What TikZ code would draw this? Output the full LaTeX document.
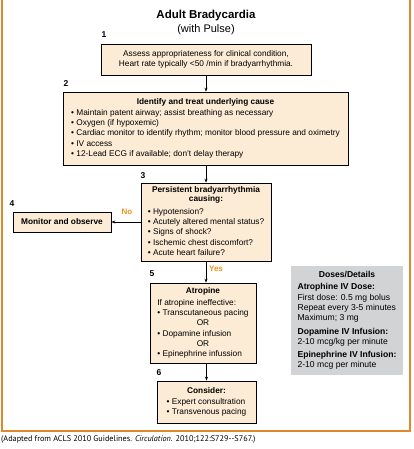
\documentclass[tikz,border=0pt]{standalone}
\usepackage{fontspec}
\setmainfont{Liberation Sans}
\newfontfamily\capfont{PT Sans}
\usetikzlibrary{arrows.meta}
\definecolor{peach}{HTML}{FCEBD5}
\definecolor{frameor}{HTML}{E0892B}
\definecolor{lab}{HTML}{F0901E}
\definecolor{dgray}{HTML}{D1D3D4}
\newcommand\bodyf{\fontsize{8.3}{10.3}\selectfont}
\newcommand\dosef{\fontsize{8.6}{10.2}\selectfont}
\newcommand\bul{\textbullet\ }
\newcommand\ctr[1]{\multicolumn{1}{@{}c@{}}{#1}}
\begin{document}
\begin{tikzpicture}[x=1pt,y=-1pt,
  box/.style={draw=black, line width=0.7pt, fill=peach, inner sep=0pt, font=\bodyf},
  num/.style={font=\fontsize{8.5}{10}\selectfont\bfseries, inner sep=0pt},
  conn/.style={-{Stealth[length=4pt,width=3pt]}, line width=0.6pt},
  ans/.style={font=\fontsize{8}{10}\selectfont\bfseries, text=lab, inner sep=0pt}]
\useasboundingbox (0,0) rectangle (413,449);
\draw[frameor, line width=1.2pt] (2,0) -- (2,431) -- (410,431) -- (410,0);

\node[font=\fontsize{11.5}{13}\selectfont\bfseries, inner sep=0pt] (title) at (206,16) {Adult Bradycardia};
\node[font=\fontsize{11}{13}\selectfont, inner sep=0pt] (sub) at (206,30) {(with Pulse)};

\node[box, minimum width=210pt, minimum height=31pt] (b1) at (206,59.5)
 {\begin{tabular}{@{}c@{}}Assess appropriateness for clinical condition,\\ Heart rate typically <50 /min if bradyarrhythmia.\end{tabular}};

\node[box, minimum width=285pt, minimum height=73pt] (b2) at (205.5,128.5)
 {\begin{tabular}{@{}l@{}}\ctr{\bfseries Identify and treat underlying cause}\\[0.5pt]
 \bul Maintain patent airway; assist breathing as necessary\\
 \bul Oxygen (if hypoxemic)\\
 \bul Cardiac monitor to identify rhythm; monitor blood pressure and oximetry\\
 \bul IV access\\
 \bul 12-Lead ECG if available; don't delay therapy\end{tabular}};

\node[box, minimum width=130pt, minimum height=78pt] (b3) at (206,222)
 {\begin{tabular}{@{}l@{}}\ctr{\bfseries Persistent bradyarrhythmia}\\[-1.5pt]
 \ctr{\bfseries causing:}\\[2.5pt]
 \bul Hypotension?\\
 \bul Acutely altered mental status?\\
 \bul Signs of shock?\\
 \bul Ischemic chest discomfort?\\
 \bul Acute heart failure?\end{tabular}};

\node[box, minimum width=98pt, minimum height=20pt, font=\bodyf\bfseries] (b4) at (62,222) {Monitor and observe};

\node[box, minimum width=106pt, minimum height=80pt] (b5) at (203,323)
 {\begin{tabular}{@{}l@{}}\ctr{\bfseries Atropine}\\[1.5pt]
 If atropine ineffective:\\
 \bul Transcutaneous pacing\\
 \ctr{OR}\\
 \bul Dopamine infusion\\
 \ctr{OR}\\
 \bul Epinephrine infussion\end{tabular}};

\node[box, minimum width=99pt, minimum height=42pt] (b6) at (206.5,402)
 {\begin{tabular}{@{}l@{}}\ctr{\bfseries Consider:}\\[0.5pt]
 \bul Expert consultration\\
 \bul Transvenous pacing\end{tabular}};

\node[fill=dgray, inner sep=0pt, minimum width=112pt, minimum height=109pt, font=\dosef] (doses) at (347,320.5)
 {\begin{tabular}{@{}l@{}}\ctr{\bfseries Doses/Details}\\[2pt]
 \bfseries Atrophine IV Dose:\\
 First dose: 0.5 mg bolus\\
 Repeat every 3-5 minutes\\
 Maximum; 3 mg\\[4pt]
 \bfseries Dopamine IV Infusion:\\
 2-10 mcg/kg per minute\\[2pt]
 \bfseries Epinephrine IV Infusion:\\
 2-10 mcg per minute\end{tabular}};

\node[num] (n1) at (104,35) {1};
\node[num] (n2) at (66,84) {2};
\node[num] (n3) at (143,176) {3};
\node[num] (n4) at (12,204) {4};
\node[num] (n5) at (152,274) {5};
\node[num] (n6) at (159,373) {6};

\draw[conn] (b1.south) -- (b1.south |- b2.north);
\draw[conn] (b3.north |- b2.south) -- (b3.north);
\draw[conn] (b3.west) -- (b4.east);
\draw[conn] (b3.south) -- (b3.south |- b5.north);
\draw[conn] (b6.north |- b5.south) -- (b6.north);

\node[ans] (no) at (127,212) {No};
\node[ans] (yes) at (216,269) {Yes};

\node[anchor=west, font=\capfont\fontsize{8.2}{9}\selectfont, inner sep=0pt] (cap) at (1,439)
 {(Adapted from ACLS 2010 Guidelines. \textit{Circulation.} 2010;122:S729--S767.)};
\end{tikzpicture}
\end{document}
